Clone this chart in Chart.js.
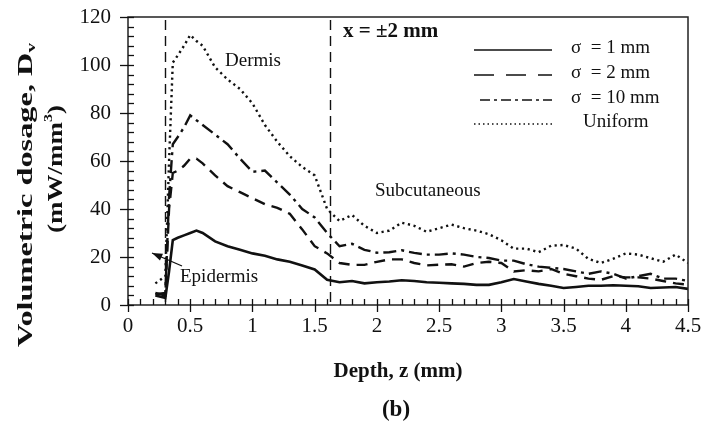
<!DOCTYPE html>
<html lang="en">
<head>
<meta charset="UTF-8">
<title>Volumetric dosage vs depth</title>
<style>
    body { margin: 0; background: #fff; }
    #wrap { width: 704px; height: 429px; }
</style>
</head>
<body>
<div id="wrap"><canvas id="myChart" width="704" height="429"></canvas></div>
<script src="https://cdn.jsdelivr.net/npm/chart.js"></script>
<script>
    // depth (mm) shared by all series
    const depth = [0.22, 0.3, 0.33, 0.36, 0.4, 0.45, 0.5, 0.55, 0.6, 0.7, 0.8, 0.9, 1.0, 1.1, 1.2, 1.3, 1.4, 1.5, 1.6, 1.7,
        1.8, 1.9, 2.0, 2.1, 2.2, 2.3, 2.4, 2.5, 2.6, 2.7, 2.8, 2.9, 3.0, 3.1, 3.2, 3.3, 3.4, 3.5, 3.6, 3.7,
        3.8, 3.9, 4.0, 4.1, 4.2, 4.3, 4.4, 4.5];

    const sigma1 = [4, 3, 14, 27, 28, 29, 30, 31, 30, 26.5, 24.5, 23, 21.5, 20.5, 19, 18, 16.5, 14.8, 10.5, 9.5,
        10, 9, 9.5, 9.8, 10.3, 10, 9.5, 9.3, 9, 8.8, 8.4, 8.4, 9.5, 10.8, 9.8, 8.8, 8, 7.1, 7.5, 8,
        8, 8.2, 8, 7.8, 7.1, 7.3, 7.5, 6.7];

    const sigma2 = [5, 4, 40, 55, 56, 58, 61, 61, 59, 54, 49.5, 47, 44.5, 42, 40.5, 38, 31.5, 24.5, 21.5, 17.5,
        16.7, 16.7, 18, 19, 19, 17.5, 16.5, 16.8, 17, 16, 17.5, 18, 17.5, 14, 14.5, 14, 15, 13, 12, 11,
        10.5, 12, 11.5, 11.5, 11, 10, 9, 8.5];

    const sigma10 = [4.5, 5, 45, 67, 70, 74, 79, 77, 75, 71, 67, 61, 55.5, 56, 51, 46, 40, 36.5, 30, 24.5,
        25.5, 23, 21.8, 22, 22.8, 21.7, 21, 21, 21.5, 21, 20, 19.6, 18.5, 18.5, 17, 16, 15.5, 15, 14, 13,
        14, 13, 11, 12, 13, 11, 11, 10];

    const uniform = [9, 12, 60, 101, 104, 108, 112.5, 110, 108, 99, 94, 90, 84, 75, 68, 62, 57.5, 54, 40, 35,
        37.5, 33, 30, 31, 34.3, 33, 30.5, 32, 33.5, 32, 31, 29.5, 27, 23.5, 23.5, 22, 24.7, 25, 23.5, 19.2,
        17.5, 19.3, 21.5, 21, 19.5, 18, 21, 17.5];

    const seriesNames = ['\u03c3  = 1 mm', '\u03c3  = 2 mm', '\u03c3  = 10 mm', 'Uniform'];
    const layerBounds = [0.3, 1.62];

    const serif = "'Liberation Serif', 'Times New Roman', serif";

    function pts(vals) {
        return depth.map((x, i) => ({ x: x, y: vals[i] }));
    }

    const dashStyles = [[], [11, 7], [13, 5, 3, 5], [2.2, 3.6]];

    // draws text (with optional sub/superscript pieces) rotated, stretched to a given length
    function drawRotated(ctx, cx, cy, parts, size, length) {
        ctx.save();
        ctx.translate(cx, cy);
        ctx.rotate(-Math.PI / 2);
        let w = 0;
        parts.forEach(p => {
            ctx.font = 'bold ' + (p.small ? Math.round(size * 0.6) : size) + 'px ' + serif;
            p.w = ctx.measureText(p.t).width;
            w += p.w;
        });
        ctx.scale(length / w, 1);
        let x = -w / 2;
        ctx.textAlign = 'left';
        parts.forEach(p => {
            ctx.font = 'bold ' + (p.small ? Math.round(size * 0.6) : size) + 'px ' + serif;
            ctx.fillText(p.t, x, p.dy || 0);
            x += p.w;
        });
        ctx.restore();
    }

    const extras = {
        id: 'extras',
        beforeDatasetsDraw(chart) {
            const ctx = chart.ctx;
            const a = chart.chartArea;
            const xs = chart.scales.x;
            ctx.save();
            ctx.strokeStyle = '#111';
            // layer boundaries
            ctx.lineWidth = 1.4;
            ctx.setLineDash([10, 6]);
            layerBounds.forEach(v => {
                const px = Math.round(xs.getPixelForValue(v)) + 0.5;
                ctx.beginPath();
                ctx.moveTo(px, a.top + 3);
                ctx.lineTo(px, a.bottom);
                ctx.stroke();
            });
            ctx.setLineDash([]);
            ctx.restore();
        },
        afterDraw(chart) {
            const ctx = chart.ctx;
            const a = chart.chartArea;
            const xs = chart.scales.x;
            const ys = chart.scales.y;
            ctx.save();
            // frame
            ctx.strokeStyle = '#222';
            ctx.lineWidth = 1.5;
            ctx.strokeRect(a.left, a.top, a.right - a.left, a.bottom - a.top);

            // x ticks
            ctx.lineWidth = 1.3;
            ctx.strokeStyle = '#111';
            for (let i = 0; i <= 45; i++) {
                const px = Math.round(xs.getPixelForValue(i / 10)) + 0.5;
                ctx.beginPath();
                ctx.moveTo(px, a.bottom - 6);
                ctx.lineTo(px, i % 5 === 0 ? a.bottom + 7 : a.bottom);
                ctx.stroke();
            }
            // y ticks
            for (let v = 0; v <= 120; v += 4) {
                const py = Math.round(ys.getPixelForValue(v)) + 0.5;
                ctx.beginPath();
                ctx.moveTo(v % 20 === 0 ? a.left - 8 : a.left, py);
                ctx.lineTo(a.left + 6, py);
                ctx.stroke();
            }

            ctx.fillStyle = '#111';
            ctx.textBaseline = 'middle';

            // region labels
            ctx.font = '19px ' + serif;
            ctx.textAlign = 'left';
            ctx.fillText('Dermis', 225, 61);
            ctx.fillText('Subcutaneous', 375, 191);
            ctx.fillText('Epidermis', 180, 277);

            // arrow to epidermis
            const tx = 182, ty = 266, hx = 152, hy = 253;
            ctx.lineWidth = 1.3;
            ctx.beginPath();
            ctx.moveTo(tx, ty);
            ctx.lineTo(hx, hy);
            ctx.stroke();
            const ang = Math.atan2(hy - ty, hx - tx);
            ctx.beginPath();
            ctx.moveTo(hx, hy);
            ctx.lineTo(hx - 11 * Math.cos(ang - 0.35), hy - 11 * Math.sin(ang - 0.35));
            ctx.lineTo(hx - 11 * Math.cos(ang + 0.35), hy - 11 * Math.sin(ang + 0.35));
            ctx.closePath();
            ctx.fill();

            ctx.font = 'bold 21px ' + serif;
            ctx.fillText('x = \u00b12 mm', 343, 32);

            // legend
            const legY = [48, 73, 98, 122];
            ctx.font = '19px ' + serif;
            chart.data.datasets.forEach((ds, i) => {
                ctx.strokeStyle = '#111';
                ctx.lineWidth = i === 3 ? 1.4 : 1.6;
                ctx.setLineDash(i === 0 ? [] : i === 1 ? [20, 12] : i === 2 ? [10, 4, 3, 4] : [1.5, 3]);
                ctx.beginPath();
                ctx.moveTo(i === 2 ? 480 : 474, legY[i] + 2);
                ctx.lineTo(552, legY[i] + 2);
                ctx.stroke();
                ctx.setLineDash([]);
                ctx.fillText(ds.label, i === 3 ? 583 : 571, legY[i]);
            });

            // axis titles
            ctx.font = 'bold 21px ' + serif;
            ctx.textAlign = 'center';
            ctx.fillText('Depth, z (mm)', 398, 372);
            ctx.font = 'bold 23px ' + serif;
            ctx.fillText('(b)', 396, 410);

            drawRotated(ctx, 26, 195, [
                { t: 'Volumetric dosage, D' },
                { t: 'v', small: true, dy: 6 }
            ], 22, 304);
            drawRotated(ctx, 56, 169, [
                { t: '(mW/mm' },
                { t: '3', small: true, dy: -7 },
                { t: ')' }
            ], 22, 128);

            ctx.restore();
        }
    };

    const allSeries = [sigma1, sigma2, sigma10, uniform];

    const myChart = new Chart(document.getElementById('myChart'), {
        type: 'scatter',
        data: {
            datasets: allSeries.map((vals, i) => ({
                label: seriesNames[i],
                data: pts(vals),
                showLine: true,
                borderColor: '#111',
                borderWidth: i === 0 ? 2.6 : 2.4,
                borderDash: dashStyles[i],
                pointRadius: 0,
                tension: 0,
                fill: false
            }))
        },
        options: {
            responsive: false,
            animation: false,
            layout: { padding: { top: 17, right: 16, left: 0, bottom: 0 } },
            plugins: {
                legend: { display: false },
                tooltip: { enabled: false }
            },
            scales: {
                x: {
                    type: 'linear',
                    min: 0,
                    max: 4.5,
                    grid: { display: false, drawTicks: false },
                    border: { display: false },
                    ticks: {
                        stepSize: 0.5,
                        color: '#111',
                        padding: 9,
                        font: { family: serif, size: 21 },
                        callback: v => String(v)
                    },
                    afterFit(s) {
                        s.height = 124;
                        s.paddingLeft = 0;
                        s.paddingRight = 0;
                    }
                },
                y: {
                    min: 0,
                    max: 120,
                    grid: { display: false, drawTicks: false },
                    border: { display: false },
                    ticks: {
                        stepSize: 20,
                        color: '#111',
                        padding: 17,
                        font: { family: serif, size: 21 }
                    },
                    afterFit(s) {
                        s.width = 128;
                        s.paddingTop = 0;
                        s.paddingBottom = 0;
                    }
                }
            }
        },
        plugins: [extras]
    });
</script>
</body>
</html>
